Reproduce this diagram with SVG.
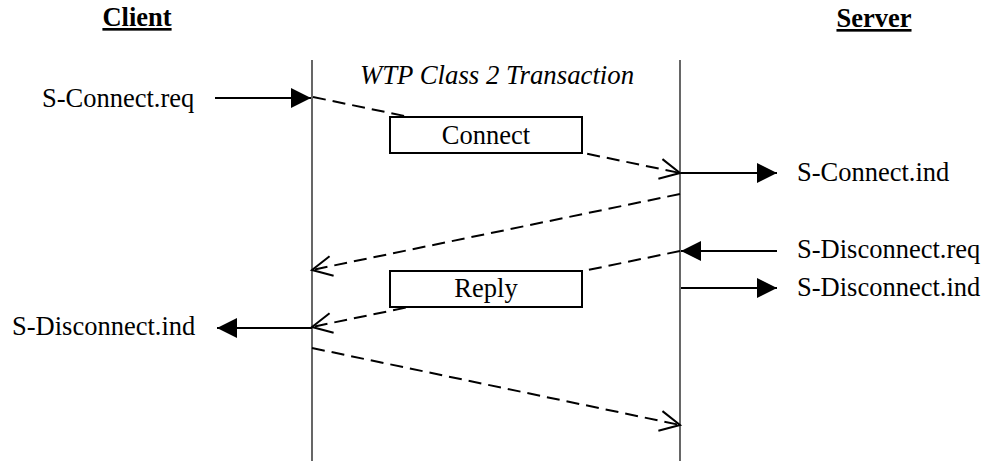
<svg xmlns="http://www.w3.org/2000/svg" width="987" height="461" viewBox="0 0 987 461">
<style>
text{font-family:"Liberation Serif","Times New Roman",serif;fill:#000;font-size:26.5px}
.hd{font-weight:bold;font-size:26.5px;text-decoration:underline}
.it{font-style:italic;font-size:26.8px}
.life{stroke:#000;stroke-width:1.2}
.sol{stroke:#000;stroke-width:2;fill:none}
.dash{stroke:#000;stroke-width:2;fill:none;stroke-dasharray:13 7}
.box{fill:#fff;stroke:#000;stroke-width:2}
</style>
<defs>
<marker id="fill" markerUnits="userSpaceOnUse" markerWidth="24" markerHeight="24" viewBox="-22 -12 24 24" refX="0" refY="0" orient="auto">
<path d="M-20,-10 L0,0 L-20,10 Z" fill="#000"/>
</marker>
<marker id="open" markerUnits="userSpaceOnUse" markerWidth="26" markerHeight="26" viewBox="-23 -13 26 26" refX="0" refY="0" orient="auto">
<path d="M-20,-10 L0,0 L-20,10" fill="none" stroke="#000" stroke-width="2"/>
</marker>
</defs>
<g id="headers">
<text class="hd" x="137" y="26" text-anchor="middle">Client</text>
<text class="hd" x="874" y="27" text-anchor="middle">Server</text>
<text class="it" x="497" y="84" text-anchor="middle">WTP Class 2 Transaction</text>
</g>
<g id="lifelines">
<line class="life" x1="312" y1="60" x2="312" y2="461"/>
<line class="life" x1="680" y1="60" x2="680" y2="461"/>
</g>
<g id="connectors">
<line class="sol" x1="215" y1="98" x2="311" y2="98" marker-end="url(#fill)"/>
<line class="sol" x1="681" y1="173" x2="777" y2="173" marker-end="url(#fill)"/>
<line class="sol" x1="777" y1="251" x2="681" y2="251" marker-end="url(#fill)"/>
<line class="sol" x1="681" y1="288" x2="777" y2="288" marker-end="url(#fill)"/>
<line class="sol" x1="312" y1="328" x2="217" y2="328" marker-end="url(#fill)"/>
<line class="dash" x1="313" y1="97" x2="680" y2="173" marker-end="url(#open)"/>
<line class="dash" x1="680" y1="194" x2="312" y2="270" marker-end="url(#open)"/>
<line class="dash" x1="680" y1="251" x2="312" y2="327" marker-end="url(#open)"/>
<line class="dash" x1="312" y1="348" x2="680" y2="425" marker-end="url(#open)"/>
</g>
<g id="connect">
<rect class="box" x="390" y="117" width="192" height="36"/>
<text x="486" y="144" text-anchor="middle">Connect</text>
</g>
<g id="reply">
<rect class="box" x="390" y="271" width="192" height="36"/>
<text x="486" y="297" text-anchor="middle">Reply</text>
</g>
<g id="labels">
<text x="42" y="107">S-Connect.req</text>
<text x="797" y="181">S-Connect.ind</text>
<text x="797" y="258">S-Disconnect.req</text>
<text x="797" y="296">S-Disconnect.ind</text>
<text x="12" y="335">S-Disconnect.ind</text>
</g>
</svg>
